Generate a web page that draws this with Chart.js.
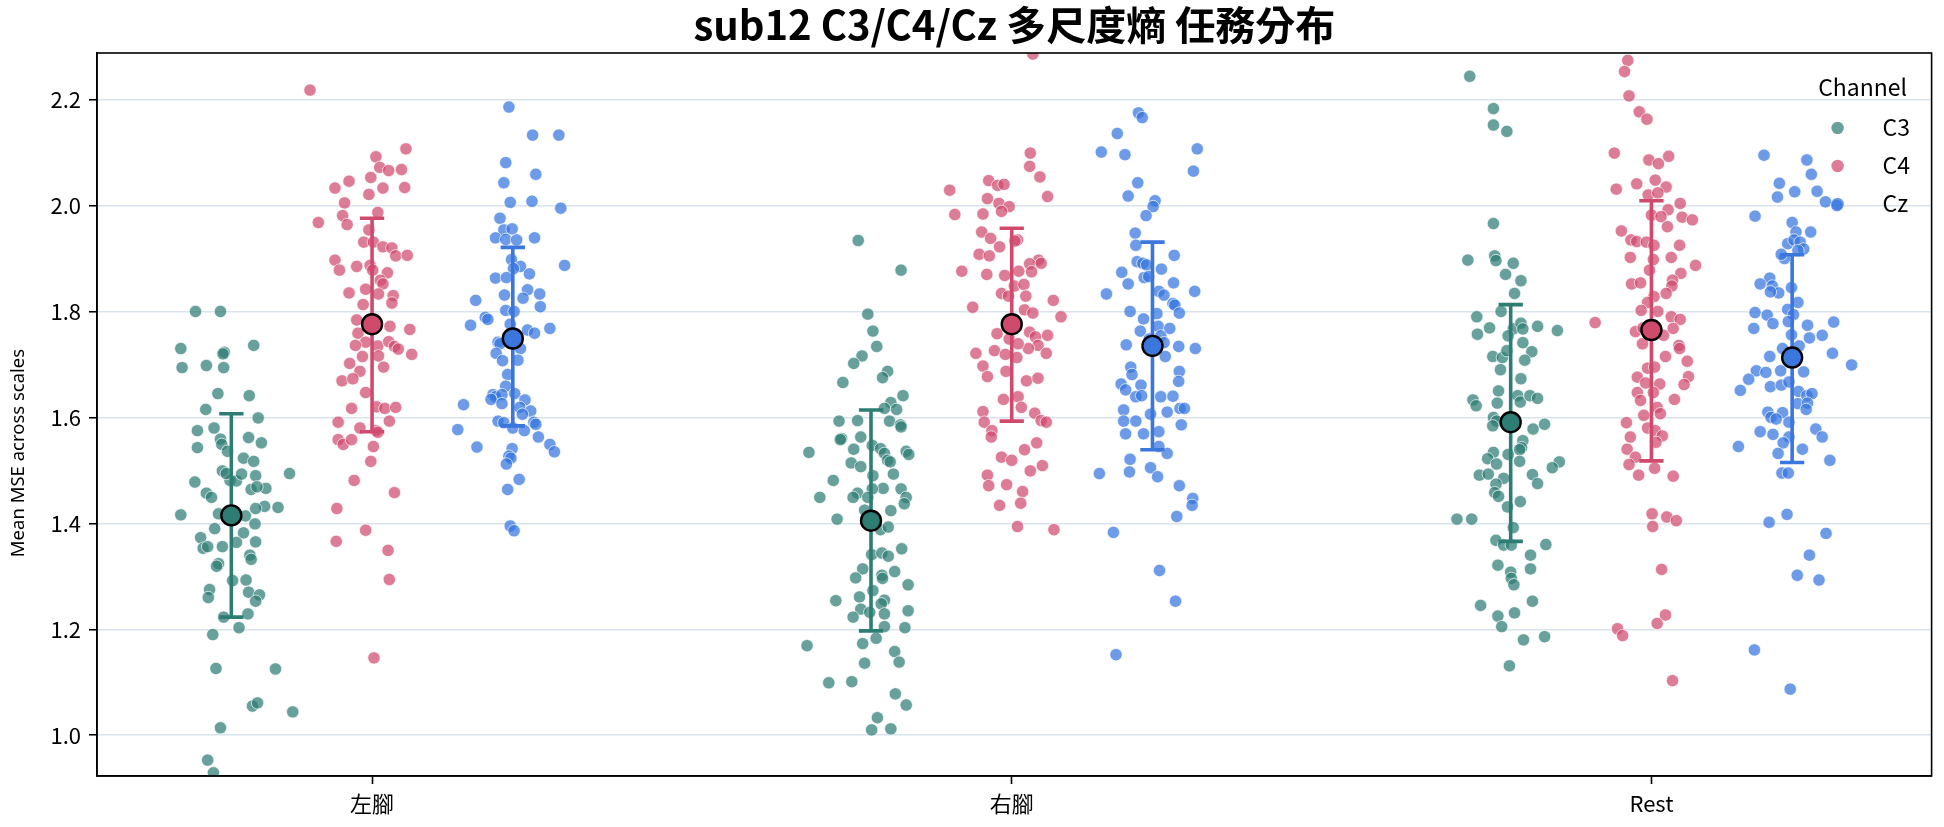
<!DOCTYPE html>
<html lang="zh-Hant">
<head>
<meta charset="utf-8">
<title>sub12 C3/C4/Cz 多尺度熵 任務分布</title>
<script src="https://cdn.jsdelivr.net/npm/chart.js@4.4.1/dist/chart.umd.min.js"></script>
<style>
  html, body { margin: 0; padding: 0; background: #ffffff; }
  #wrap { width: 1944px; height: 827px; }
</style>
</head>
<body>
<div id="wrap"><canvas id="mseChart" width="1944" height="827"></canvas></div>
<script>
// 類別 / 通道 / 刻度
const categories = ["左腳", "右腳", "Rest"];
const channels = ["C3", "C4", "Cz"];
const yTickValues = [1.0, 1.2, 1.4, 1.6, 1.8, 2.0, 2.2];

// 每個 trial 的 mean MSE與水平抖動量
const leftC3 = [1.80,1.80,1.73,1.736,1.723,1.72,1.694,1.698,1.694,1.645,1.641,1.615,1.599,1.575,1.58,1.562,1.559,1.552,1.543,1.549,1.523,1.517,1.536,1.499,1.494,1.478,1.481,1.48,1.49,1.493,1.494,1.457,1.449,1.464,1.466,1.469,1.432,1.43,1.428,1.416,1.418,1.416,1.414,1.399,1.39,1.373,1.382,1.364,1.353,1.356,1.365,1.356,1.324,1.319,1.34,1.332,1.292,1.293,1.275,1.26,1.27,1.265,1.253,1.229,1.223,1.203,1.19,1.126,1.125,1.055,1.061,1.044,1.014,0.953,0.929];
const leftC3Jitter = [-0.056,-0.017,-0.079,0.035,-0.011,-0.013,-0.077,-0.039,-0.012,-0.021,0.028,-0.04,0.042,-0.053,-0.027,0.027,-0.017,0.047,-0.053,-0.015,0.019,0.035,-0.006,-0.014,0.091,-0.057,-0.002,0.008,0.038,0.016,-0.008,-0.039,-0.031,0.031,0.054,0.04,0.052,0.073,0.038,-0.079,-0.02,-0.004,0.022,0.037,-0.026,-0.048,0.019,0.008,-0.044,-0.014,0.038,-0.037,-0.02,-0.023,0.029,0.031,0.002,0.023,-0.034,-0.036,0.027,0.044,0.038,0.026,-0.012,0.012,-0.029,-0.024,0.069,0.033,0.041,0.096,-0.017,-0.037,-0.028];

const leftC4 = [2.218,2.107,2.092,2.072,2.066,2.068,2.046,2.053,2.033,2.033,2.034,2.021,2.005,1.987,1.981,1.968,1.964,1.954,1.931,1.931,1.922,1.92,1.905,1.906,1.897,1.878,1.885,1.887,1.878,1.873,1.859,1.852,1.83,1.835,1.842,1.833,1.816,1.813,1.784,1.772,1.766,1.759,1.742,1.736,1.735,1.743,1.734,1.729,1.719,1.715,1.716,1.702,1.687,1.695,1.669,1.673,1.647,1.617,1.62,1.617,1.619,1.591,1.58,1.593,1.575,1.558,1.549,1.558,1.572,1.545,1.517,1.481,1.458,1.428,1.387,1.366,1.349,1.294,1.146];
const leftC4Jitter = [-0.097,0.053,0.006,0.012,0.026,0.046,-0.036,-0.002,-0.058,0.017,0.051,-0.005,-0.043,0.009,-0.046,-0.084,-0.039,-0.005,-0.013,0.002,0.017,0.031,0.037,0.055,-0.058,-0.051,-0.024,-0.003,0.001,0.024,0.013,0.017,0.033,-0.036,-0.01,0.01,0.031,-0.014,-0.024,0.028,0.059,-0.022,-0.01,-0.026,0.009,0.026,0.035,0.041,0.062,-0.015,0.01,-0.035,-0.019,0.018,-0.047,-0.03,-0.01,-0.032,0.007,0.02,0.037,-0.053,-0.019,0.027,0.006,-0.053,-0.045,-0.032,0.009,0.002,-0.002,-0.028,0.035,-0.055,-0.01,-0.056,0.025,0.027,0.003];

const leftCz = [2.186,2.133,2.133,2.081,2.059,2.043,2.006,2.008,1.995,1.976,1.954,1.956,1.939,1.936,1.935,1.939,1.898,1.887,1.885,1.881,1.871,1.863,1.864,1.841,1.833,1.831,1.825,1.821,1.809,1.802,1.8,1.789,1.785,1.774,1.765,1.759,1.768,1.776,1.742,1.739,1.73,1.721,1.708,1.707,1.681,1.659,1.624,1.643,1.639,1.643,1.645,1.634,1.626,1.633,1.619,1.612,1.606,1.593,1.59,1.58,1.575,1.591,1.587,1.577,1.563,1.544,1.541,1.549,1.535,1.527,1.523,1.512,1.483,1.464,1.395,1.386];
const leftCzJitter = [-0.006,0.031,0.072,-0.011,0.036,-0.014,-0.004,0.03,0.075,-0.02,-0.014,-0.001,-0.027,-0.011,0.006,0.034,-0.002,0.081,0.012,0.001,0.026,-0.027,-0.01,0.023,0.042,-0.013,0.016,-0.058,0.043,-0.011,0.002,-0.043,-0.039,-0.066,0.023,0.034,0.058,-0.004,-0.023,-0.02,0.012,-0.026,0.008,-0.016,-0.008,-0.011,-0.077,-0.031,-0.027,-0.017,0.003,-0.034,-0.017,0.019,0.011,0.028,0.015,-0.023,-0.014,0,0.018,0.033,0.036,-0.086,0.04,-0.056,-0.001,0.058,0.065,-0.006,-0.003,-0.01,0.01,-0.008,-0.004,0.002];

const rightC3 = [1.934,1.878,1.795,1.763,1.734,1.716,1.702,1.687,1.675,1.666,1.641,1.628,1.617,1.615,1.594,1.593,1.593,1.586,1.582,1.56,1.558,1.563,1.547,1.541,1.534,1.54,1.532,1.536,1.53,1.519,1.516,1.514,1.507,1.493,1.49,1.481,1.465,1.466,1.465,1.457,1.449,1.449,1.449,1.449,1.437,1.424,1.408,1.425,1.388,1.393,1.352,1.341,1.344,1.338,1.314,1.297,1.309,1.302,1.296,1.284,1.273,1.261,1.254,1.255,1.248,1.238,1.223,1.232,1.229,1.235,1.205,1.203,1.183,1.169,1.173,1.158,1.138,1.136,1.099,1.101,1.078,1.057,1.033,1.01,1.012];
const rightC3Jitter = [-0.02,0.047,-0.005,0.003,0.009,-0.014,-0.027,0.026,0.018,-0.044,0.05,0.031,0.021,0.04,-0.021,-0.05,0.029,0.046,0.047,-0.046,-0.048,-0.016,0.002,0.015,-0.097,-0.027,0.021,0.055,0.059,0.026,0.03,-0.031,-0.016,0.035,0.003,-0.059,0.047,0.019,0.002,-0.021,-0.028,-0.08,-0.005,0.055,0.052,0.031,-0.053,-0.01,0.015,0.027,0.048,0.001,0.017,0.027,-0.013,-0.024,0.037,0.017,0.018,0.058,0.003,-0.018,-0.055,0.021,0.016,-0.016,-0.028,-0.002,0.021,0.058,0.021,0.053,0.008,-0.1,-0.013,0.037,0.044,-0.01,-0.066,-0.03,0.038,0.055,0.01,0.001,0.031];

const rightC4 = [2.286,2.099,2.074,2.054,2.047,2.038,2.04,2.029,2.017,2.013,2.004,1.998,1.989,1.983,1.984,1.95,1.938,1.935,1.933,1.922,1.908,1.905,1.897,1.89,1.891,1.876,1.87,1.868,1.875,1.876,1.848,1.851,1.834,1.829,1.829,1.821,1.808,1.803,1.797,1.79,1.758,1.761,1.755,1.752,1.736,1.73,1.748,1.739,1.721,1.721,1.726,1.719,1.713,1.697,1.677,1.687,1.669,1.674,1.634,1.639,1.619,1.611,1.591,1.608,1.594,1.591,1.575,1.563,1.539,1.552,1.525,1.519,1.499,1.509,1.491,1.471,1.473,1.46,1.438,1.434,1.394,1.388];
const rightC4Jitter = [0.033,0.029,0.028,0.044,-0.036,-0.022,-0.012,-0.097,0.056,-0.038,-0.02,-0.004,-0.016,-0.089,-0.045,-0.047,-0.033,0.009,0.005,-0.019,-0.051,-0.035,0.042,0.028,0.046,-0.078,-0.039,-0.011,0.031,0.011,0.004,0.019,-0.016,-0.005,0.022,0.065,-0.061,0.02,0.033,0.077,-0.023,0.028,0.056,0.037,0.041,0.026,-0.004,0.01,0.054,-0.056,-0.027,-0.01,0.008,-0.045,-0.038,-0.009,0.023,0.041,-0.013,0.01,0.015,-0.045,-0.043,0.036,0.046,0.054,-0.031,-0.032,0.02,0.039,-0.016,0,0.029,0.048,-0.038,-0.036,-0.008,0.017,0.014,-0.019,0.009,0.066];

const rightCz = [2.175,2.166,2.136,2.101,2.096,2.107,2.065,2.043,2.018,2.009,1.998,1.981,1.948,1.925,1.906,1.894,1.891,1.888,1.874,1.852,1.864,1.866,1.88,1.854,1.838,1.833,1.838,1.831,1.815,1.812,1.797,1.8,1.796,1.772,1.786,1.763,1.768,1.754,1.741,1.737,1.734,1.73,1.748,1.715,1.695,1.681,1.687,1.668,1.663,1.652,1.661,1.639,1.641,1.639,1.64,1.614,1.606,1.61,1.617,1.617,1.593,1.593,1.586,1.569,1.569,1.573,1.532,1.521,1.545,1.494,1.497,1.505,1.488,1.471,1.447,1.434,1.413,1.383,1.311,1.253,1.152];
const rightCzJitter = [-0.022,-0.016,-0.055,-0.08,-0.043,0.07,0.064,-0.023,-0.038,0.004,0.001,-0.01,-0.027,-0.026,0.034,-0.024,-0.015,-0.009,-0.048,-0.038,-0.013,-0.006,0.014,0.033,0.066,-0.072,0.01,0.018,0.032,0.035,0.042,-0.035,0.007,0.009,-0.014,-0.019,0.027,0.013,0.018,-0.041,0.041,0.067,-0.005,0.02,-0.034,-0.032,0.042,0.041,-0.049,-0.042,-0.018,-0.026,-0.017,0.013,0.032,-0.045,-0.003,0.023,0.043,0.05,-0.045,-0.026,0.045,-0.042,-0.014,0.01,0.023,-0.035,0.01,-0.083,-0.036,-0.003,0.008,0.042,0.063,0.062,0.038,-0.061,0.011,0.036,-0.057];

const restC3 = [2.244,2.183,2.152,2.14,1.966,1.897,1.905,1.896,1.891,1.87,1.858,1.834,1.8,1.79,1.769,1.757,1.767,1.778,1.767,1.772,1.764,1.754,1.741,1.724,1.715,1.713,1.726,1.708,1.69,1.673,1.65,1.633,1.622,1.627,1.641,1.629,1.641,1.636,1.6,1.593,1.584,1.578,1.587,1.556,1.543,1.539,1.534,1.522,1.512,1.53,1.517,1.516,1.505,1.491,1.493,1.485,1.492,1.475,1.474,1.458,1.451,1.441,1.431,1.408,1.408,1.392,1.368,1.359,1.359,1.36,1.34,1.321,1.308,1.314,1.296,1.284,1.245,1.253,1.225,1.231,1.205,1.18,1.186,1.131];
const restC3Jitter = [-0.064,-0.027,-0.027,-0.006,-0.027,-0.067,-0.025,-0.023,0.004,-0.008,0.016,0.006,-0.015,-0.053,-0.033,-0.052,0.004,0.016,0.019,0.042,0.073,-0.004,0.019,0.033,-0.028,-0.013,-0.006,0.022,-0.016,0.016,-0.019,-0.059,-0.054,-0.021,0.011,0.015,0.03,0.042,-0.027,-0.022,-0.028,0.035,0.053,0.019,0.017,0.014,-0.027,-0.036,-0.022,-0.004,0.014,0.076,0.065,-0.049,-0.035,-0.011,0.034,0.042,-0.023,-0.025,-0.019,0.015,-0.005,-0.084,-0.061,0.004,-0.023,-0.011,0.001,0.055,0.031,-0.02,0,0.031,0.001,0.005,-0.047,0.034,-0.02,0.006,-0.014,0.02,0.053,-0.002];

const restC4 = [2.274,2.253,2.207,2.177,2.163,2.099,2.086,2.079,2.093,2.031,2.041,2.048,2.035,2.02,2.024,2.004,1.992,1.982,1.979,1.978,1.973,1.96,1.952,1.935,1.932,1.931,1.925,1.925,1.902,1.898,1.902,1.887,1.878,1.872,1.852,1.854,1.859,1.848,1.834,1.828,1.817,1.802,1.8,1.79,1.785,1.779,1.762,1.769,1.755,1.768,1.739,1.736,1.73,1.715,1.706,1.693,1.677,1.676,1.695,1.663,1.662,1.647,1.665,1.647,1.632,1.634,1.619,1.607,1.604,1.59,1.58,1.575,1.565,1.563,1.553,1.54,1.525,1.511,1.491,1.504,1.489,1.418,1.412,1.405,1.394,1.313,1.227,1.211,1.201,1.188,1.103];
const restC4Jitter = [-0.037,-0.042,-0.035,-0.019,-0.007,-0.058,-0.004,0.011,0.027,-0.055,-0.023,0.006,0.023,-0.005,0.01,0.045,0.026,0,0.015,0.048,0.064,0.025,-0.047,-0.032,-0.023,-0.008,0.004,0.044,-0.033,0.003,0.031,0.069,-0.003,0.046,-0.031,-0.017,0.033,0.032,0.023,0.004,-0.006,-0.016,0.01,0.031,0.045,-0.088,-0.025,-0.013,0.019,0.034,-0.014,0.043,0.044,0.022,0.056,-0.006,0.058,-0.022,0.005,0.013,0.051,-0.022,-0.009,0.003,-0.017,0.036,0.009,0.014,-0.012,-0.039,-0.006,0.006,0.017,-0.033,0.007,-0.038,-0.025,-0.035,-0.02,0.005,0.034,0.001,0.024,0.039,0.002,0.016,0.022,0.009,-0.053,-0.045,0.033];

const restCz = [2.095,2.086,2.059,2.042,2.016,2.026,2.027,2.007,2.0,1.98,1.968,1.95,1.95,1.928,1.935,1.931,1.918,1.9,1.908,1.915,1.863,1.852,1.848,1.835,1.837,1.845,1.817,1.798,1.793,1.804,1.794,1.768,1.777,1.781,1.774,1.75,1.78,1.755,1.756,1.735,1.73,1.721,1.715,1.699,1.688,1.685,1.688,1.686,1.672,1.651,1.658,1.661,1.667,1.649,1.626,1.641,1.645,1.627,1.615,1.61,1.6,1.609,1.597,1.591,1.573,1.568,1.563,1.578,1.563,1.545,1.552,1.532,1.54,1.519,1.495,1.495,1.417,1.402,1.381,1.34,1.302,1.293,1.161,1.087];
const restCzJitter = [-0.044,0.023,0.03,-0.02,-0.023,0.004,0.039,0.052,0.07,-0.058,0,0.029,0.006,-0.007,0.003,0.0125,0.018,-0.012,-0.017,0.009,-0.035,-0.05,-0.031,-0.021,-0.034,-0.001,0.009,-0.058,-0.039,-0.007,0.002,-0.06,-0.03,-0.006,0.024,0.027,0.065,0.047,-0.001,0.011,-0.015,0.063,-0.035,0.093,-0.056,-0.041,-0.018,0.018,-0.068,-0.081,-0.034,-0.017,-0.005,0.01,0.009,0.023,0.031,0.024,0.022,-0.038,-0.033,-0.015,-0.025,-0.005,-0.05,-0.03,-0.005,0.037,0.047,-0.084,-0.014,-0.022,0.016,0.059,-0.016,-0.006,-0.008,-0.036,0.053,0.027,0.008,0.042,-0.059,-0.003];

// 平均與誤差線（左腳, 右腳, Rest）
const meanC3 = [1.415, 1.405, 1.591];
const lowC3 = [1.223, 1.197, 1.366];
const highC3 = [1.607, 1.614, 1.813];
const meanC4 = [1.776, 1.776, 1.765];
const lowC4 = [1.573, 1.593, 1.518];
const highC4 = [1.976, 1.957, 2.009];
const meanCz = [1.749, 1.735, 1.713];
const lowCz = [1.584, 1.539, 1.515];
const highCz = [1.921, 1.931, 1.907];

const chValues = [[leftC3, rightC3, restC3], [leftC4, rightC4, restC4], [leftCz, rightCz, restCz]];
const chJitter = [[leftC3Jitter, rightC3Jitter, restC3Jitter], [leftC4Jitter, rightC4Jitter, restC4Jitter], [leftCzJitter, rightCzJitter, restCzJitter]];
const chMean = [meanC3, meanC4, meanCz];
const chLow = [lowC3, lowC4, lowCz];
const chHigh = [highC3, highC4, highCz];

// 樣式
const pointColors = ["rgba(46, 125, 116, 0.72)", "rgba(208, 74, 110, 0.72)", "rgba(53, 116, 223, 0.72)"];
const barColors = ["#2e7d74", "#d04a6e", "#3a76db"];
const dodge = [-0.22, 0, 0.22];
const capHalf = 0.019;
const fontFamily = "'Noto Sans CJK TC', 'Noto Sans', sans-serif";

const datasets = [];

// 散點
channels.forEach((ch, c) => {
    const pts = [];
    categories.forEach((cat, k) => {
        chValues[c][k].forEach((v, i) => {
            pts.push({ x: k + dodge[c] + chJitter[c][k][i], y: v });
        });
    });
    datasets.push({
        label: ch,
        type: "scatter",
        data: pts,
        backgroundColor: pointColors[c],
        borderColor: "rgba(255, 255, 255, 0.85)",
        borderWidth: 0.8,
        pointRadius: 6.2,
        order: 3,
        clip: 0,
    });
});

// 誤差線 + 端帽
channels.forEach((ch, c) => {
    const seg = [];
    categories.forEach((cat, k) => {
        const x = k + dodge[c];
        const lo = chLow[c][k];
        const hi = chHigh[c][k];
        seg.push({ x: x, y: lo }, { x: x, y: hi }, { x: x, y: null });
        seg.push({ x: x - capHalf, y: lo }, { x: x + capHalf, y: lo }, { x: x, y: null });
        seg.push({ x: x - capHalf, y: hi }, { x: x + capHalf, y: hi }, { x: x, y: null });
    });
    datasets.push({
        label: ch + " sd",
        type: "line",
        data: seg,
        borderColor: barColors[c],
        borderWidth: 3.6,
        borderCapStyle: "butt",
        pointRadius: 0,
        spanGaps: false,
        fill: false,
        tension: 0,
        order: 2,
    });
});

// 平均點
channels.forEach((ch, c) => {
    datasets.push({
        label: ch + " mean",
        type: "scatter",
        data: chMean[c].map((m, k) => ({ x: k + dodge[c], y: m })),
        backgroundColor: barColors[c],
        borderColor: "#000000",
        borderWidth: 2.4,
        pointRadius: 10,
        order: 1,
    });
});

// 外框、y 軸標題、圖例
const framePlugin = {
    id: "framePlugin",
    afterDraw(chart) {
        const ctx = chart.ctx;
        const a = chart.chartArea;
        ctx.save();
        ctx.strokeStyle = "#000000";
        ctx.lineWidth = 1.6;
        ctx.strokeRect(a.left, a.top, a.right - a.left, a.bottom - a.top);

        // y axis title
        ctx.save();
        ctx.translate(19, 453);
        ctx.rotate(-Math.PI / 2);
        ctx.fillStyle = "#000000";
        ctx.font = "18.5px 'Noto Sans', sans-serif";
        ctx.textAlign = "center";
        ctx.textBaseline = "middle";
        ctx.fillText("Mean MSE across scales", 0, 0);
        ctx.restore();

        // legend
        ctx.fillStyle = "#000000";
        ctx.font = "23px " + fontFamily;
        ctx.textAlign = "center";
        ctx.textBaseline = "middle";
        ctx.fillText("Channel", a.right - 69, a.top + 34);
        channels.forEach((ch, c) => {
            const y = a.top + 75 + c * 38;
            ctx.beginPath();
            ctx.arc(a.right - 94, y, 6.2, 0, Math.PI * 2);
            ctx.fillStyle = pointColors[c];
            ctx.fill();
            ctx.fillStyle = "#000000";
            ctx.textAlign = "left";
            ctx.fillText(ch, a.right - 49, y - 1);
        });
        ctx.restore();
    },
};

const ctx = document.getElementById("mseChart").getContext("2d");
const mseChart = new Chart(ctx, {
    type: "scatter",
    data: { datasets: datasets },
    options: {
        responsive: false,
        animation: false,
        devicePixelRatio: 1,
        layout: { padding: { left: 0, right: 12, top: 0, bottom: 0 } },
        plugins: {
            legend: { display: false },
            tooltip: { enabled: false },
            title: {
                display: true,
                fullSize: false,
                text: "sub12 C3/C4/Cz 多尺度熵 任務分布",
                color: "#000000",
                font: { family: fontFamily, size: 40, weight: "bold", lineHeight: 1.1 },
                padding: { top: 3, bottom: 6 },
            },
        },
        scales: {
            x: {
                type: "linear",
                min: -0.43,
                max: 2.438,
                afterBuildTicks: (axis) => {
                    axis.ticks = categories.map((c, k) => ({ value: k }));
                },
                afterFit: (scale) => {
                    scale.height = 51;
                },
                ticks: {
                    callback: (value) => categories[value],
                    color: "#000000",
                    font: { family: fontFamily, size: 22 },
                    padding: 6,
                    maxRotation: 0,
                    autoSkip: false,
                },
                grid: {
                    drawOnChartArea: false,
                    drawTicks: true,
                    tickLength: 8,
                    tickColor: "#000000",
                    tickWidth: 1.6,
                },
                border: { display: true, color: "#000000", width: 1.6 },
            },
            y: {
                min: 0.923,
                max: 2.288,
                afterBuildTicks: (axis) => {
                    axis.ticks = yTickValues.map((v) => ({ value: v }));
                },
                afterFit: (scale) => {
                    scale.width = 97;
                },
                ticks: {
                    callback: (value) => value.toFixed(1),
                    color: "#000000",
                    font: { family: fontFamily, size: 22 },
                    padding: 8,
                },
                grid: {
                    color: "#d9e3ed",
                    lineWidth: 1.5,
                    tickLength: 8,
                    tickColor: "#000000",
                    tickWidth: 1.6,
                },
                border: { display: true, color: "#000000", width: 1.6 },
            },
        },
    },
    plugins: [framePlugin],
});
</script>
</body>
</html>
